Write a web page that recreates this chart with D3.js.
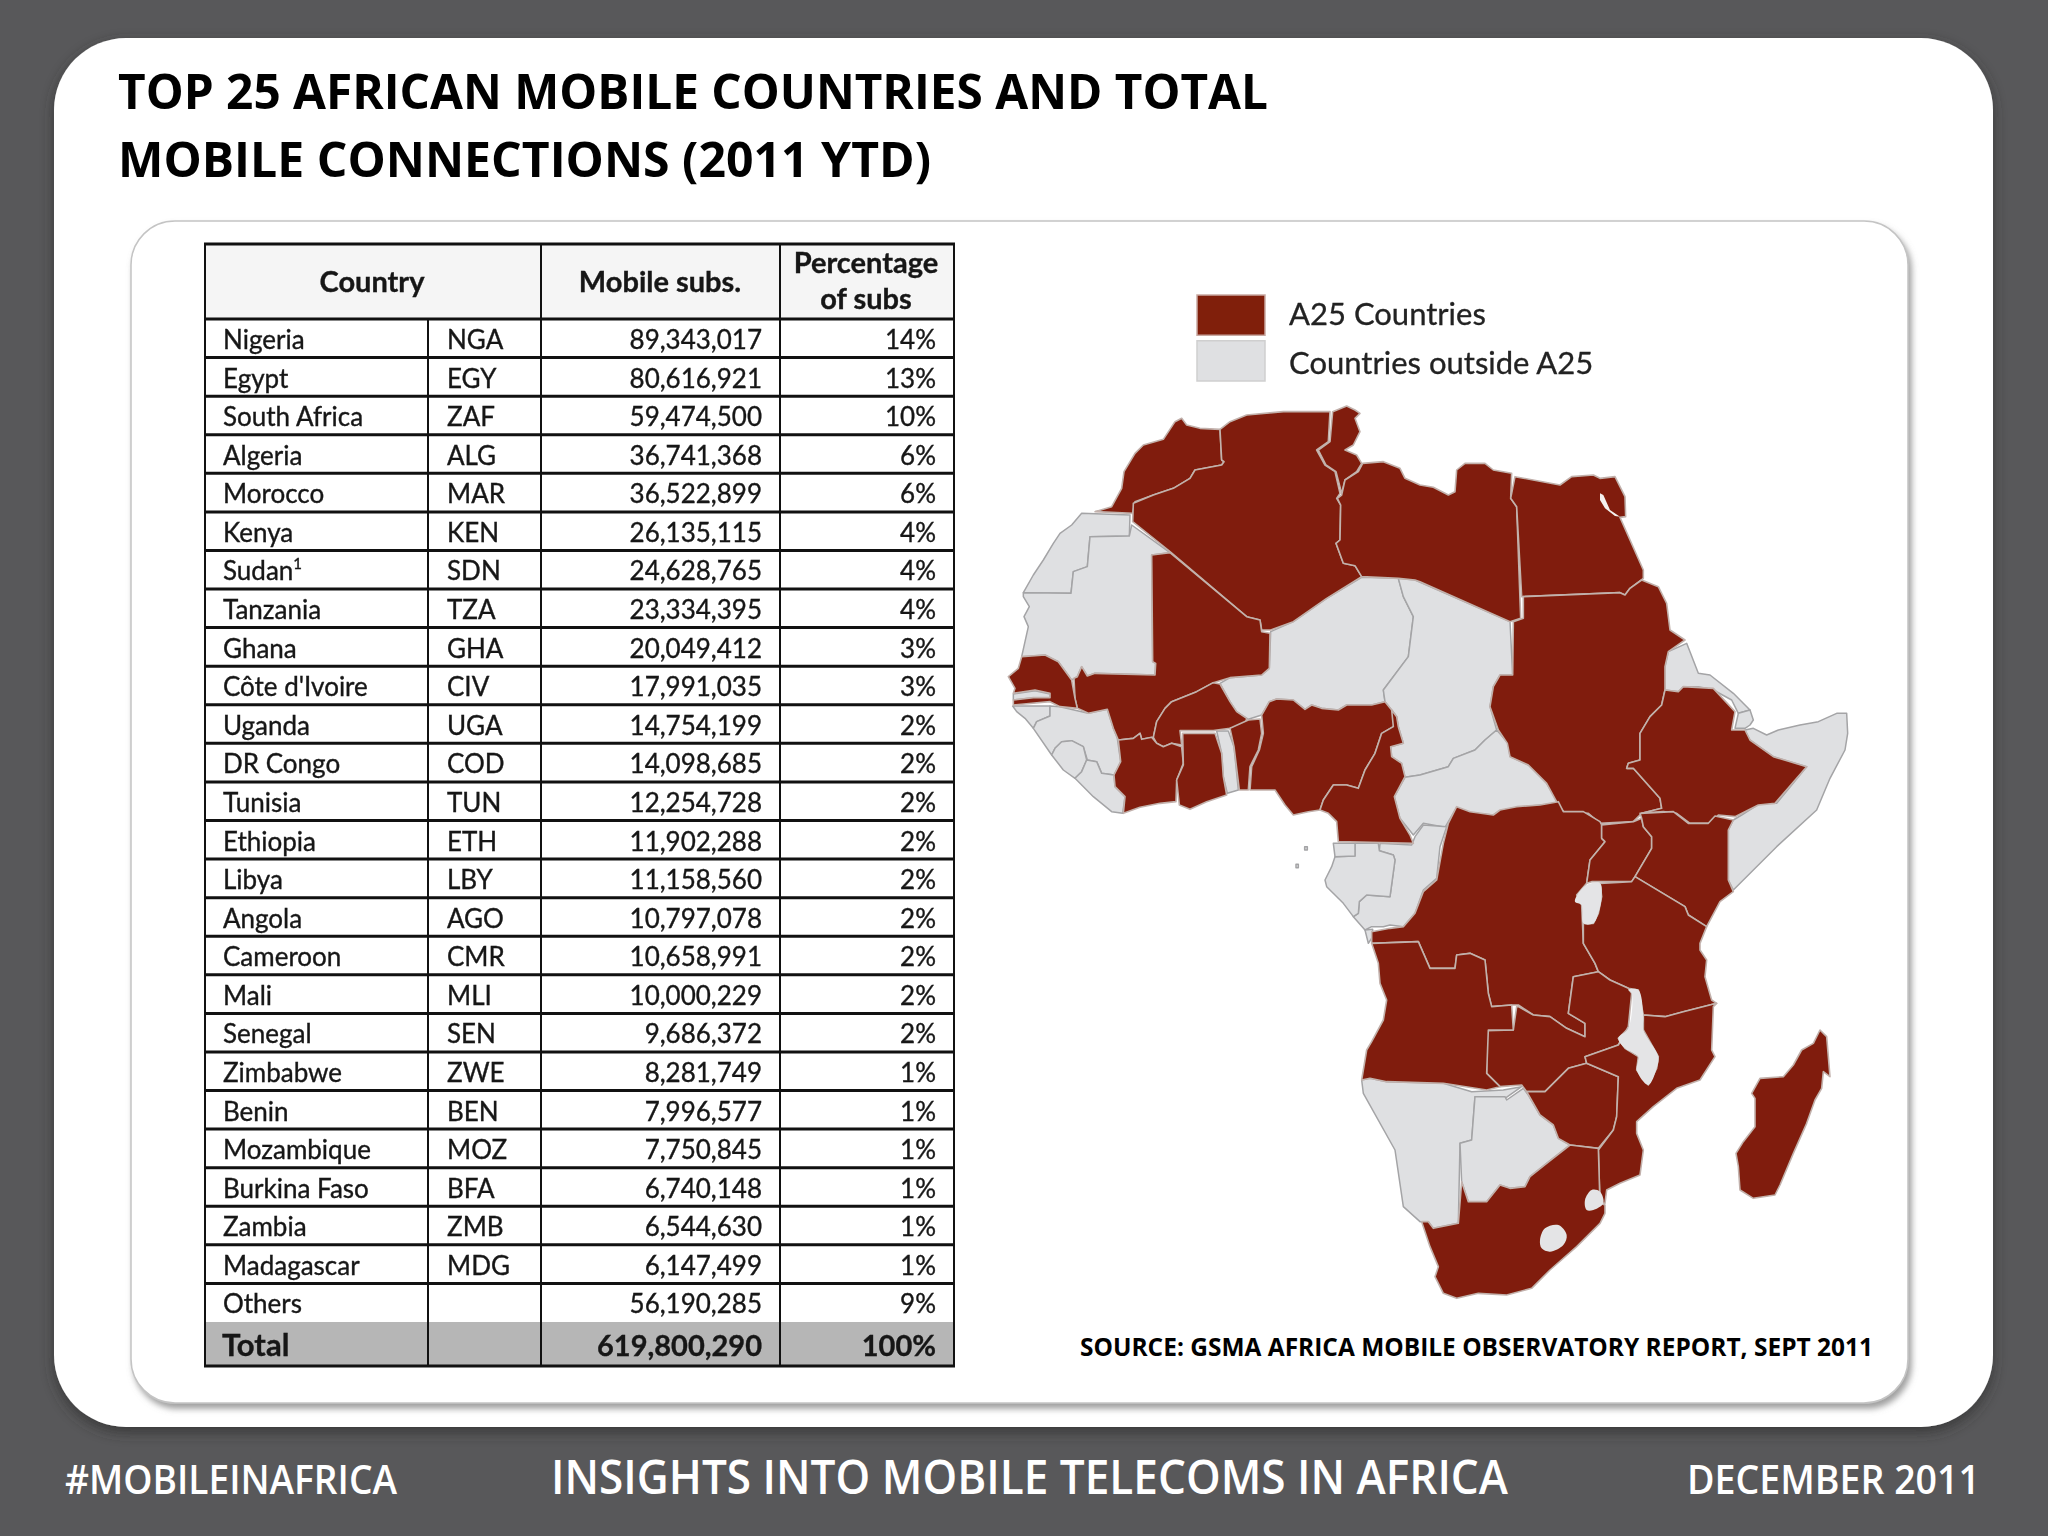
<!DOCTYPE html>
<html>
<head>
<meta charset="utf-8">
<script src="https://cdn.jsdelivr.net/npm/d3@7"></script>
<style>
  html, body { margin: 0; padding: 0; background: #58585a; }
  svg { display: block; }
  text { font-family: Lato, "Open Sans", sans-serif; }
  .heading { font-family: "Open Sans", sans-serif; }
</style>
</head>
<body>
<svg id="svg" width="2048" height="1536"></svg>
<script>
// table values
const countries = ['Nigeria', 'Egypt', 'South Africa', 'Algeria', 'Morocco', 'Kenya', 'Sudan', 'Tanzania', 'Ghana', "Côte d'Ivoire", 'Uganda', 'DR Congo', 'Tunisia', 'Ethiopia', 'Libya', 'Angola', 'Cameroon', 'Mali', 'Senegal', 'Zimbabwe', 'Benin', 'Mozambique', 'Burkina Faso', 'Zambia', 'Madagascar', 'Others'];
const codes = ['NGA', 'EGY', 'ZAF', 'ALG', 'MAR', 'KEN', 'SDN', 'TZA', 'GHA', 'CIV', 'UGA', 'COD', 'TUN', 'ETH', 'LBY', 'AGO', 'CMR', 'MLI', 'SEN', 'ZWE', 'BEN', 'MOZ', 'BFA', 'ZMB', 'MDG', ''];
const subs = [89343017, 80616921, 59474500, 36741368, 36522899, 26135115, 24628765, 23334395, 20049412, 17991035, 14754199, 14098685, 12254728, 11902288, 11158560, 10797078, 10658991, 10000229, 9686372, 8281749, 7996577, 7750845, 6740148, 6544630, 6147499, 56190285];
const shares = [14, 13, 10, 6, 6, 4, 4, 4, 3, 3, 2, 2, 2, 2, 2, 2, 2, 2, 2, 1, 1, 1, 1, 1, 1, 9];
const totalSubs = 619800290;
const totalShare = 100;

const titleLines = ['TOP 25 AFRICAN MOBILE COUNTRIES AND TOTAL', 'MOBILE CONNECTIONS (2011 YTD)'];
const legendLabels = ['A25 Countries', 'Countries outside A25'];

// country outlines on a grid of 1/3 px
const morocco = [[285,335],[335,320],[365,265],[372,215],[405,160],[430,135],[490,118],[525,65],[545,55],[560,75],[600,85],[660,88],[665,180],[672,185],[665,195],[585,210],[570,235],[520,265],[460,285],[405,305],[398,340]];
const algeria = [[398,365],[400,310],[460,285],[520,265],[570,235],[585,210],[665,195],[672,185],[665,180],[660,88],[690,65],[740,45],[850,35],[990,35],[985,125],[950,150],[975,195],[1005,215],[1020,280],[1010,295],[1022,315],[1020,420],[1008,430],[1030,490],[1065,497],[1085,530],[980,595],[880,665],[812,690],[785,690],[780,660],[740,650],[510,455]];
const tunisia = [[998,35],[1040,18],[1065,30],[1080,40],[1065,55],[1080,95],[1060,135],[1035,150],[1070,165],[1085,190],[1070,215],[1035,240],[1025,280],[1008,215],[978,195],[955,150],[990,125]];
const libya = [[1025,285],[1035,240],[1075,215],[1088,190],[1150,185],[1200,205],[1215,235],[1260,255],[1300,262],[1345,285],[1365,275],[1370,210],[1395,190],[1455,190],[1480,210],[1535,220],[1532,295],[1550,320],[1562,655],[1530,665],[1260,545],[1245,540],[1195,535],[1085,530],[1065,497],[1030,490],[1008,430],[1020,420],[1022,315],[1012,295]];
const egypt = [[1545,230],[1680,255],[1715,230],[1780,225],[1800,235],[1845,230],[1875,290],[1877,350],[1860,352],[1930,510],[1930,535],[1890,565],[1875,585],[1860,578],[1565,590],[1550,320],[1532,295]];
const sudan = [[1570,590],[1860,578],[1875,585],[1890,565],[1925,540],[1975,560],[2000,610],[2010,690],[2055,720],[2005,755],[1995,800],[1995,870],[1985,915],[1950,950],[1920,1000],[1920,1080],[1885,1090],[1880,1105],[1900,1105],[1940,1150],[1980,1195],[1985,1225],[1925,1240],[1900,1265],[1800,1270],[1765,1240],[1695,1240],[1675,1215],[1640,1150],[1585,1095],[1530,1070],[1522,1030],[1495,990],[1470,920],[1480,860],[1500,825],[1538,825],[1540,665],[1570,655]];
const ethiopia = [[1995,870],[2035,875],[2050,860],[2140,865],[2205,935],[2195,990],[2235,990],[2250,1020],[2320,1070],[2420,1100],[2325,1210],[2275,1215],[2205,1250],[2155,1245],[2130,1270],[2070,1270],[2030,1240],[1990,1235],[1925,1240],[1985,1225],[1980,1195],[1940,1150],[1900,1105],[1880,1105],[1885,1090],[1920,1080],[1920,1000],[1950,950],[1985,915]];
const mali = [[455,465],[510,458],[740,650],[780,660],[785,695],[810,700],[808,805],[785,825],[690,833],[640,848],[590,875],[515,905],[495,925],[470,965],[460,1012],[425,1018],[420,1000],[400,1015],[355,1020],[340,985],[322,928],[265,940],[232,925],[225,895],[222,835],[232,830],[245,800],[262,828],[285,820],[465,825],[467,790],[458,785]];
const senegal = [[65,770],[135,765],[175,785],[215,840],[225,895],[232,925],[180,920],[150,905],[40,915],[40,900],[100,893],[150,893],[150,880],[105,870],[40,880],[45,865],[25,830],[55,805]];
const burkinaFaso = [[660,852],[690,905],[710,935],[740,955],[735,975],[690,985],[640,992],[540,992],[545,1035],[515,1030],[490,1040],[470,1030],[460,1012],[470,965],[495,925],[515,905],[590,875],[640,848]];
const coteDivoire = [[355,1020],[400,1015],[420,1000],[425,1018],[455,1012],[470,1030],[490,1040],[515,1030],[545,1040],[550,1090],[530,1140],[528,1205],[480,1210],[420,1222],[370,1240],[375,1190],[345,1160],[342,1125],[362,1085]];
const ghana = [[548,1000],[645,1000],[665,1060],[670,1130],[680,1185],[620,1205],[570,1228],[538,1215],[530,1140],[550,1095]];
const benin = [[690,985],[745,960],[780,957],[785,1000],[775,1050],[750,1100],[745,1170],[718,1170],[702,1040]];
const nigeria = [[785,945],[808,905],[830,897],[880,900],[915,928],[935,915],[965,925],[1015,930],[1040,915],[1115,915],[1155,905],[1175,930],[1190,950],[1180,980],[1145,1000],[1125,1060],[1095,1110],[1075,1165],[1040,1155],[1000,1155],[970,1200],[960,1230],[925,1235],[880,1245],[855,1215],[825,1170],[750,1170],[755,1100],[778,1050],[790,1000]];
const cameroon = [[1175,930],[1190,950],[1195,980],[1210,1030],[1172,1040],[1175,1070],[1205,1090],[1215,1130],[1183,1190],[1200,1255],[1230,1305],[1240,1330],[1015,1325],[1010,1265],[985,1240],[960,1230],[970,1200],[1000,1155],[1040,1155],[1075,1165],[1095,1110],[1125,1060],[1145,1000],[1180,980]];
const drCongo = [[1370,1220],[1410,1235],[1480,1245],[1500,1230],[1550,1220],[1620,1215],[1675,1205],[1690,1235],[1750,1235],[1800,1265],[1805,1275],[1805,1315],[1815,1325],[1770,1380],[1760,1450],[1730,1485],[1745,1515],[1750,1630],[1785,1690],[1795,1715],[1720,1730],[1705,1840],[1755,1870],[1755,1910],[1700,1885],[1650,1850],[1600,1845],[1555,1815],[1535,1815],[1475,1820],[1465,1780],[1455,1680],[1410,1660],[1370,1665],[1365,1705],[1290,1705],[1255,1625],[1115,1630],[1115,1595],[1170,1585],[1210,1580],[1245,1540],[1270,1475],[1310,1440],[1330,1330],[1345,1270]];
const uganda = [[1805,1275],[1900,1265],[1925,1255],[1930,1280],[1955,1310],[1955,1345],[1905,1430],[1895,1445],[1775,1445],[1760,1450],[1770,1380],[1815,1325],[1805,1315]];
const kenya = [[1925,1255],[1920,1240],[2020,1235],[2065,1270],[2125,1270],[2145,1248],[2200,1260],[2185,1290],[2185,1440],[2200,1475],[2160,1505],[2120,1580],[2065,1545],[2055,1520],[1905,1430],[1955,1345],[1955,1310],[1930,1280]];
const tanzania = [[1800,1450],[1895,1445],[1905,1430],[2055,1520],[2065,1545],[2120,1580],[2100,1630],[2100,1650],[2120,1680],[2115,1730],[2135,1800],[2150,1810],[2050,1835],[1995,1850],[1930,1845],[1915,1770],[1885,1765],[1830,1740],[1795,1715],[1785,1690],[1750,1630],[1750,1570],[1780,1570],[1795,1540],[1805,1490]];
const zambia = [[1555,1820],[1600,1845],[1650,1850],[1700,1885],[1755,1910],[1755,1870],[1705,1840],[1720,1730],[1795,1715],[1830,1740],[1885,1765],[1895,1780],[1885,1880],[1855,1935],[1755,1970],[1760,1990],[1705,2005],[1635,2075],[1580,2075],[1565,2055],[1500,2060],[1460,2020],[1460,1892],[1540,1890],[1550,1820]];
const angola = [[1115,1630],[1255,1625],[1290,1705],[1365,1705],[1370,1665],[1410,1660],[1455,1680],[1465,1780],[1475,1820],[1535,1815],[1540,1890],[1465,1890],[1460,2020],[1500,2060],[1460,2070],[1330,2050],[1160,2045],[1110,2035],[1085,2040],[1100,1950],[1115,1925],[1150,1860],[1160,1800],[1140,1750],[1135,1690]];
const zimbabwe = [[1580,2075],[1635,2075],[1705,2005],[1760,1990],[1855,2030],[1850,2150],[1840,2190],[1795,2245],[1710,2235],[1675,2215],[1660,2175],[1620,2145]];
const mozambique = [[1930,1845],[1995,1850],[2050,1835],[2150,1810],[2140,1820],[2135,1950],[2145,1970],[2100,2040],[2030,2065],[1960,2120],[1910,2165],[1910,2200],[1930,2250],[1920,2325],[1860,2350],[1820,2370],[1815,2410],[1800,2410],[1795,2250],[1840,2190],[1850,2150],[1855,2030],[1760,1990],[1755,1970],[1855,1935],[1885,1885],[1855,1915],[1875,1945],[1915,1970],[1910,2010],[1945,2055],[1970,2005],[1975,1970],[1930,1890]];
const southAfrica = [[1385,2345],[1405,2405],[1460,2405],[1500,2355],[1530,2365],[1575,2360],[1590,2330],[1640,2290],[1710,2235],[1795,2245],[1800,2410],[1815,2415],[1815,2440],[1800,2470],[1730,2540],[1650,2610],[1595,2665],[1520,2685],[1435,2680],[1370,2695],[1330,2680],[1305,2630],[1315,2600],[1290,2540],[1265,2465],[1285,2465],[1300,2485],[1375,2470]];
const madagascar = [[2460,1890],[2480,1910],[2490,2030],[2470,2015],[2465,2065],[2445,2100],[2420,2170],[2380,2260],[2340,2355],[2325,2385],[2260,2395],[2220,2370],[2215,2300],[2208,2260],[2230,2225],[2265,2180],[2265,2095],[2255,2080],[2280,2035],[2350,2030],[2380,1995],[2405,1950],[2440,1930]];

const westernSahara = [[245,340],[390,345],[388,408],[270,410],[262,500],[220,515],[213,580],[70,578],[100,525],[130,480],[160,430],[180,400],[215,375]];
const mauritania = [[70,578],[213,580],[220,515],[262,500],[270,410],[388,408],[395,375],[510,458],[455,465],[458,785],[467,790],[465,825],[285,820],[262,828],[245,800],[232,830],[215,840],[175,785],[135,765],[65,770],[85,680],[72,650],[88,620],[70,590]];
const gambia = [[40,882],[105,872],[150,882],[150,893],[100,893],[40,900]];
const guineaBissau = [[38,918],[150,918],[150,948],[110,965],[100,985],[75,955],[50,935]];
const guinea = [[150,918],[180,920],[232,932],[265,940],[322,928],[340,985],[352,1015],[362,1085],[342,1125],[305,1120],[290,1085],[262,1080],[250,1040],[215,1022],[185,1025],[165,1045],[155,1065],[100,985],[110,965],[150,948]];
const sierraLeone = [[155,1065],[165,1045],[185,1025],[215,1022],[250,1040],[260,1080],[245,1115],[225,1135],[190,1110]];
const liberia = [[225,1135],[245,1115],[260,1080],[290,1085],[305,1120],[342,1125],[345,1160],[375,1190],[368,1240],[335,1235],[280,1190]];
const togo = [[650,993],[685,993],[702,1040],[715,1170],[682,1180],[670,1130],[665,1060]];
const niger = [[1085,532],[1195,535],[1210,590],[1240,650],[1225,770],[1150,870],[1155,905],[1115,915],[1040,915],[1015,930],[965,925],[935,915],[915,928],[880,900],[830,897],[808,905],[785,945],[745,958],[710,935],[690,905],[660,850],[690,833],[785,825],[808,805],[812,695],[880,665],[980,595]];
const chad = [[1195,535],[1245,540],[1530,665],[1538,825],[1500,825],[1480,860],[1470,920],[1490,990],[1455,1020],[1425,1050],[1360,1075],[1345,1100],[1260,1125],[1215,1132],[1205,1090],[1175,1070],[1172,1040],[1210,1030],[1195,980],[1190,950],[1175,930],[1155,905],[1150,870],[1225,770],[1240,650],[1210,590]];
const centralAfrica = [[1215,1132],[1260,1125],[1345,1100],[1360,1075],[1425,1050],[1455,1020],[1490,990],[1525,1030],[1530,1070],[1585,1095],[1640,1150],[1675,1210],[1620,1215],[1550,1222],[1500,1232],[1480,1245],[1410,1238],[1370,1222],[1335,1282],[1270,1270],[1240,1305],[1200,1255],[1183,1190]];
const congo = [[1140,1330],[1235,1335],[1245,1310],[1270,1275],[1340,1280],[1320,1340],[1310,1435],[1270,1470],[1245,1540],[1210,1580],[1170,1575],[1150,1580],[1115,1580],[1095,1590],[1060,1550],[1075,1540],[1078,1505],[1100,1485],[1170,1490],[1185,1380],[1180,1365],[1138,1352]];
const gabon = [[1005,1370],[1065,1368],[1065,1330],[1135,1330],[1138,1352],[1180,1365],[1185,1380],[1170,1490],[1100,1485],[1078,1505],[1075,1540],[1060,1550],[1030,1510],[980,1460],[975,1440],[995,1400]];
const equatorialGuinea = [[1000,1330],[1065,1330],[1065,1368],[1005,1370]];
const cabinda = [[1095,1590],[1118,1588],[1118,1610],[1105,1630]];
const eritrea = [[2060,730],[2095,820],[2130,825],[2200,880],[2250,930],[2215,940],[2195,900],[2140,870],[2095,860],[2050,860],[2035,875],[1995,870],[1995,800],[2005,755]];
const djibouti = [[2215,940],[2250,930],[2260,960],[2250,975],[2235,985],[2205,985]];
const somalia = [[2235,990],[2260,985],[2300,1005],[2335,990],[2400,975],[2455,965],[2510,940],[2540,940],[2543,1000],[2535,1050],[2490,1135],[2450,1230],[2330,1340],[2200,1470],[2185,1440],[2185,1290],[2200,1260],[2225,1245],[2280,1210],[2330,1210],[2420,1100],[2320,1070],[2250,1020]];
const namibia = [[1085,2040],[1110,2035],[1160,2045],[1330,2050],[1415,2075],[1510,2070],[1565,2060],[1515,2095],[1425,2090],[1415,2220],[1380,2230],[1375,2470],[1300,2485],[1285,2465],[1260,2465],[1210,2420],[1185,2250],[1090,2080]];
const botswana = [[1425,2090],[1515,2090],[1520,2100],[1570,2065],[1585,2085],[1620,2145],[1660,2175],[1675,2215],[1710,2235],[1640,2290],[1590,2330],[1575,2360],[1530,2365],[1500,2355],[1460,2405],[1405,2405],[1385,2345],[1380,2230],[1415,2220]];
const saoTome = [[914,1340],[922,1340],[922,1350],[914,1350]];
const principe = [[888,1393],[895,1393],[895,1403],[888,1403]];

const rwandaBurundi = [[1760,1455],[1800,1450],[1805,1490],[1795,1540],[1780,1570],[1750,1570],[1745,1515],[1725,1505],[1735,1480]];
const malawi = [[1885,1770],[1915,1770],[1930,1850],[1930,1890],[1975,1970],[1970,2005],[1945,2055],[1910,2010],[1915,1970],[1875,1945],[1855,1915],[1885,1885],[1895,1780]];
const lesotho = [[1620,2520],[1635,2485],[1675,2475],[1700,2505],[1690,2535],[1650,2555],[1625,2545]];
const swaziland = [[1755,2400],[1775,2370],[1800,2375],[1810,2410],[1780,2430],[1760,2430]];
const gulfOfSuez = [[1800,280],[1810,285],[1830,330],[1860,350],[1845,348],[1815,325],[1800,300]];

const a25Shapes = [morocco, algeria, tunisia, libya, egypt, sudan, ethiopia, mali, senegal, burkinaFaso, coteDivoire, ghana, benin, nigeria, cameroon, drCongo, uganda, kenya, tanzania, zambia, angola, zimbabwe, mozambique, southAfrica, madagascar];
const outsideShapes = [westernSahara, mauritania, gambia, guineaBissau, guinea, sierraLeone, liberia, togo, niger, chad, centralAfrica, congo, gabon, equatorialGuinea, cabinda, eritrea, djibouti, somalia, namibia, botswana, saoTome, principe];
const roundedShapes = [rwandaBurundi, malawi, lesotho, swaziland];

const red = '#801f0b';
const grey = '#dfe0e2';

const svg = d3.select('#svg');
const defs = svg.append('defs');

const addShadow = (id, dx, dy, blur, color) => {
  defs.append('filter').attr('id', id)
    .attr('x', '-5%').attr('y', '-5%').attr('width', '110%').attr('height', '110%')
    .append('feDropShadow')
    .attr('dx', dx).attr('dy', dy).attr('stdDeviation', blur)
    .attr('flood-color', color).attr('flood-opacity', 0.8);
};
const addBlur = (id, amount) => {
  defs.append('filter').attr('id', id)
    .attr('x', '-2%').attr('y', '-2%').attr('width', '104%').attr('height', '104%')
    .append('feGaussianBlur').attr('stdDeviation', amount);
};
addShadow('outerShadow', 0, 5, 7, '#333');
addShadow('innerShadow', 3, 5, 3, '#888');
addBlur('mapBlur', 0.7);
addBlur('textBlur', 0.5);

// background cards
svg.append('rect').attr('width', 2048).attr('height', 1536).attr('fill', '#58585a');
svg.append('rect').attr('x', 54).attr('y', 38).attr('width', 1939).attr('height', 1389).attr('rx', 72)
  .attr('fill', '#fff').attr('filter', 'url(#outerShadow)');
svg.append('rect').attr('x', 131).attr('y', 221).attr('width', 1777).attr('height', 1182).attr('rx', 44)
  .attr('fill', '#fff').attr('stroke', '#c4c4c4').attr('stroke-width', 1.5).attr('filter', 'url(#innerShadow)');

// title
svg.selectAll('text.title').data(titleLines).join('text')
  .attr('class', 'title heading')
  .attr('x', 118).attr('y', (d, i) => 109 + i * 68)
  .attr('font-size', 49).attr('font-weight', 700).attr('fill', '#000')
  .attr('textLength', (d, i) => (i ? 813 : 1150)).attr('lengthAdjust', 'spacingAndGlyphs')
  .text((d) => d);

// table
const rowY = d3.scaleBand().domain(d3.range(countries.length)).range([319, 1322]);
const colX = [205, 428, 541, 780, 954];
const tableLeft = colX[0];
const tableRight = colX[4];
const headerTop = 244;
const tableBottom = 1366;
const totalTop = rowY.range()[1];
const table = svg.append('g');

table.append('rect').attr('x', tableLeft).attr('y', headerTop).attr('width', tableRight - tableLeft).attr('height', rowY.range()[0] - headerTop).attr('fill', '#f5f5f5');
table.append('rect').attr('x', tableLeft).attr('y', totalTop).attr('width', tableRight - tableLeft).attr('height', tableBottom - totalTop).attr('fill', '#b6b6b6');

// no rule between Others and Total
const rowLines = [headerTop, ...d3.range(countries.length).map((i) => rowY(i)), tableBottom];
table.selectAll('line.row').data(rowLines).join('line')
  .attr('class', 'row')
  .attr('x1', tableLeft - 1).attr('x2', tableRight + 1)
  .attr('y1', (d) => d).attr('y2', (d) => d)
  .attr('stroke', '#111').attr('stroke-width', 3);

table.selectAll('line.col').data(colX).join('line')
  .attr('class', 'col')
  .attr('x1', (d) => d).attr('x2', (d) => d)
  .attr('y1', (d) => (d === colX[1] ? rowY(0) : headerTop))
  .attr('y2', tableBottom)
  .attr('stroke', '#111').attr('stroke-width', 2);

const tableText = table.append('g').attr('filter', 'url(#textBlur)')
  .attr('fill', '#161616').attr('stroke', '#161616').attr('stroke-width', 0.35);
const baseline = (i) => rowY(i) + 30;

tableText.selectAll('text.name').data(countries).join('text')
  .attr('class', 'name').attr('x', 223).attr('y', (d, i) => baseline(i))
  .attr('font-size', 26).text((d) => d);
tableText.select('text.name:nth-of-type(7)').append('tspan')
  .attr('dy', -11).attr('font-size', 15).text('1');
tableText.selectAll('text.code').data(codes).join('text')
  .attr('class', 'code').attr('x', 447).attr('y', (d, i) => baseline(i))
  .attr('font-size', 26).text((d) => d);
tableText.selectAll('text.subs').data(subs).join('text')
  .attr('class', 'subs').attr('x', 762).attr('y', (d, i) => baseline(i))
  .attr('font-size', 26).attr('text-anchor', 'end').text((d) => d3.format(',')(d));
tableText.selectAll('text.share').data(shares).join('text')
  .attr('class', 'share').attr('x', 936).attr('y', (d, i) => baseline(i))
  .attr('font-size', 26).attr('text-anchor', 'end').text((d) => d + '%');

const addCell = (label, x, y, anchor, size, weight) => {
  tableText.append('text')
    .attr('x', x).attr('y', y).attr('text-anchor', anchor)
    .attr('font-size', size).attr('font-weight', weight).text(label);
};
addCell('Country', 372, 292, 'middle', 29, 700);
addCell('Mobile subs.', 660, 292, 'middle', 29, 700);
addCell('Percentage', 866, 273, 'middle', 29, 700);
addCell('of subs', 866, 309, 'middle', 29, 700);
addCell('Total', 222, 1356, 'start', 31, 700);
addCell(d3.format(',')(totalSubs), 762, 1356, 'end', 29, 700);
addCell(totalShare + '%', 936, 1356, 'end', 29, 700);

// map
const mapX = d3.scaleLinear().domain([0, 2580]).range([1000, 1860]);
const mapY = d3.scaleLinear().domain([0, 2760]).range([400, 1320]);
const outline = d3.line().x((d) => mapX(d[0])).y((d) => mapY(d[1]));
const rounded = d3.line().x((d) => mapX(d[0])).y((d) => mapY(d[1])).curve(d3.curveCatmullRomClosed);
const closed = (d) => outline(d) + 'Z';
const map = svg.append('g').attr('filter', 'url(#mapBlur)');

map.append('g').selectAll('path').data(outsideShapes).join('path')
  .attr('d', closed).attr('fill', grey).attr('stroke', '#a4a4a6').attr('stroke-width', 1.5).attr('stroke-linejoin', 'round');
map.append('g').selectAll('path').data(a25Shapes).join('path')
  .attr('d', closed).attr('fill', red).attr('stroke', '#c2b1ac').attr('stroke-width', 1.6).attr('stroke-linejoin', 'round');
map.append('g').selectAll('path').data(roundedShapes).join('path')
  .attr('d', rounded).attr('fill', '#e4e4e6');
map.append('path').datum(gulfOfSuez).attr('d', closed).attr('fill', '#f4f0ef');

// legend
const legendRows = d3.scaleBand().domain(legendLabels).range([295, 381]).paddingInner(0.12);
const legendColor = d3.scaleOrdinal().domain(legendLabels).range([red, grey]);
const legend = svg.append('g');

legend.selectAll('rect').data(legendLabels).join('rect')
  .attr('x', 1197).attr('y', (d) => legendRows(d))
  .attr('width', 68).attr('height', legendRows.bandwidth())
  .attr('fill', legendColor).attr('stroke', (d, i) => (i ? '#cfcfcf' : '#c9a9a2')).attr('stroke-width', 1.5);
legend.selectAll('text').data(legendLabels).join('text')
  .attr('x', 1289).attr('y', (d, i) => 325 + i * 49)
  .attr('font-size', 31).attr('fill', '#222').attr('stroke', '#222').attr('stroke-width', 0.3)
  .attr('filter', 'url(#textBlur)')
  .text((d) => d);

// source and footer
svg.append('text').attr('class', 'heading')
  .attr('x', 1080).attr('y', 1356)
  .attr('font-size', 25).attr('font-weight', 700).attr('fill', '#000')
  .attr('textLength', 793).attr('lengthAdjust', 'spacingAndGlyphs')
  .text('SOURCE: GSMA AFRICA MOBILE OBSERVATORY REPORT, SEPT 2011');

const footer = [
  { label: '#MOBILEINAFRICA', x: 65, length: 332, size: 40 },
  { label: 'INSIGHTS INTO MOBILE TELECOMS IN AFRICA', x: 551, length: 957, size: 47 },
  { label: 'DECEMBER 2011', x: 1687, length: 293, size: 40 }
];
svg.selectAll('text.footer').data(footer).join('text')
  .attr('class', 'footer heading')
  .attr('x', (d) => d.x).attr('y', 1494)
  .attr('font-size', (d) => d.size).attr('font-weight', 600).attr('fill', '#fff')
  .attr('textLength', (d) => d.length).attr('lengthAdjust', 'spacingAndGlyphs')
  .text((d) => d.label);
</script>
</body>
</html>
